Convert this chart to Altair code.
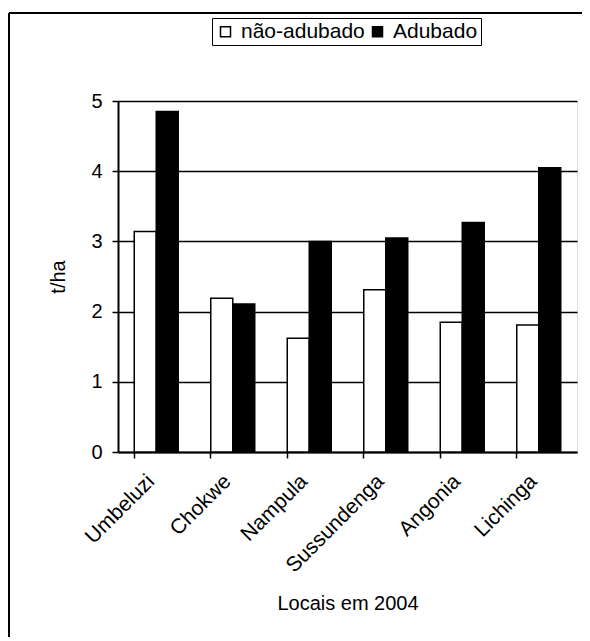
import altair as alt
import pandas as pd

locais = ["Umbeluzi", "Chokwe", "Nampula", "Sussundenga", "Angonia", "Lichinga"]
nao_adubado = [3.14, 2.19, 1.62, 2.31, 1.85, 1.81]
adubado = [4.85, 2.11, 3.00, 3.05, 3.27, 4.05]
series = ["não-adubado", "Adubado"]
y_ticks = [0, 1, 2, 3, 4, 5]

rows = []
for loc, a, b in zip(locais, nao_adubado, adubado):
    rows.append({"local": loc, "serie": series[0], "valor": a})
    rows.append({"local": loc, "serie": series[1], "valor": b})
df = pd.DataFrame(rows)

FONT = "Liberation Sans"
W, H = 459, 351

bars = alt.Chart(df).mark_bar(stroke="black", strokeWidth=1.5).encode(
    x=alt.X("local:N", sort=locais,
            scale=alt.Scale(paddingInner=0.425, paddingOuter=0.2125),
            axis=alt.Axis(title="Locais em 2004", labelAngle=-45, labelAlign="right",
                          labelBaseline="middle", bandPosition=0, labelOffset=-5,
                          ticks=True, tickSize=6, tickColor="black", tickWidth=1.5,
                          domainColor="black", domainWidth=2,
                          labelFontSize=21, labelFont=FONT, labelColor="black",
                          labelPadding=20,
                          titleFontSize=20, titleFont=FONT, titleFontWeight="normal",
                          titleColor="black", titleY=141, titleBaseline="top")),
    xOffset=alt.XOffset("serie:N", sort=series, scale=alt.Scale(paddingInner=0)),
    y=alt.Y("valor:Q", scale=alt.Scale(domain=[0, 5], nice=False),
            axis=alt.Axis(title="t/ha", values=y_ticks, format="d",
                          grid=True, gridColor="black", gridWidth=1.5,
                          ticks=True, tickSize=6, tickColor="black", tickWidth=1.5,
                          domainColor="black", domainWidth=2,
                          labelFontSize=20, labelFont=FONT, labelColor="black",
                          labelPadding=10,
                          titleFontSize=20, titleFont=FONT, titleFontWeight="normal",
                          titleColor="black", titlePadding=22)),
    fill=alt.Fill("serie:N", sort=series,
                  scale=alt.Scale(domain=series, range=["white", "black"]),
                  legend=alt.Legend(title=None, orient="none", legendX=94, legendY=-83,
                                    direction="horizontal", symbolType="square",
                                    symbolSize=100, symbolStrokeColor="black",
                                    symbolStrokeWidth=1.5, labelFontSize=21,
                                    labelFont=FONT, labelColor="black", labelOffset=5,
                                    columnPadding=2, strokeColor="black", padding=3,
                                    fillColor="white")),
)

frame_top = alt.Chart(df).mark_rule(color="black", strokeWidth=2).encode(
    x=alt.value(-109), x2=alt.value(W + 5), y=alt.value(-88))
frame_left = alt.Chart(df).mark_rule(color="black", strokeWidth=2).encode(
    x=alt.value(-109), y=alt.value(-88), y2=alt.value(H + 185))

chart = alt.layer(bars, frame_top, frame_left).properties(
    width=W, height=H,
    autosize=alt.AutoSizeParams(type="none"),
    padding={"left": 110, "top": 93, "right": 5, "bottom": 185},
).configure_view(stroke="black", strokeWidth=1.5).configure(background="white")

chart.save("out.html", embed_options={"renderer": "svg", "actions": False})
